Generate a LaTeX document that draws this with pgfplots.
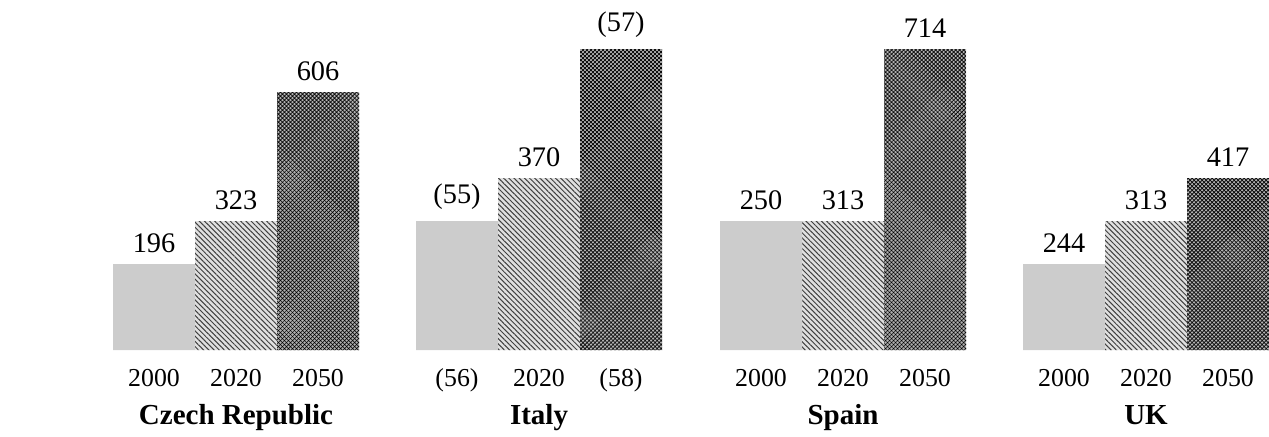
\documentclass[border=0pt]{standalone}
\usepackage{pgfplots}
\pgfplotsset{compat=1.18}
\usepackage{pgfplotstable}
\usepackage{fontspec}
\setmainfont{Liberation Serif}
\usetikzlibrary{patterns,patterns.meta}

% x position (px), bar height (units), label
\pgfplotstableread{
x h lab
154 2 196
457 3 (55)
761 3 250
1064 2 244
}\yrA
\pgfplotstableread{
x h lab
236 3 323
539 4 370
843 3 313
1146 3 313
}\yrB
\pgfplotstableread{
x h lab
318 6 606
621 7 (57)
925 7 714
1228 4 417
}\yrC

\begin{document}
\begin{tikzpicture}
\begin{axis}[
  scale only axis,
  width=761.4pt, height=210pt,
  xmin=0, xmax=1269, ymin=0, ymax=8.14,
  axis line style={draw=none},
  major tick length=0pt,
  ytick=\empty,
  xtick={154,236,318,457,539,621,761,843,925,1064,1146,1228},
  xticklabels={2000,{2020\\[4pt]{\fontsize{17.4}{20}\selectfont\bfseries Czech Republic}},2050,
               (56),{2020\\[4pt]{\fontsize{17.4}{20}\selectfont\bfseries Italy}},(58),
               2000,{2020\\[4pt]{\fontsize{17.4}{20}\selectfont\bfseries Spain}},2050,
               2000,{2020\\[4pt]{\fontsize{17.4}{20}\selectfont\bfseries UK}},2050},
  typeset ticklabels with strut,
  xticklabel style={font=\fontsize{15.5}{19}\selectfont, align=center, anchor=north, yshift=-5pt},
  ybar, bar width=49.2pt, bar shift=0pt,
  nodes near coords,
  point meta=explicit symbolic,
  every node near coord/.append style={font=\fontsize{17}{20}\selectfont, yshift=3.3pt},
  clip=false,
]
\addplot[draw=none, fill=black!20] table[x=x, y=h, meta=lab] {\yrA};
\addplot[draw=none, fill=black!12, postaction={pattern={Lines[angle=-45,distance=2.2pt,line width=0.6pt]}, pattern color=black!75}] table[x=x, y=h, meta=lab] {\yrB};
\addplot[draw=none, fill=black!30, postaction={pattern={Lines[angle=45,distance=1.7pt,line width=0.4pt]}, pattern color=black}, postaction={pattern={Lines[angle=-45,distance=1.7pt,line width=0.4pt]}, pattern color=black}] table[x=x, y=h, meta=lab] {\yrC};
\end{axis}
\end{tikzpicture}
\end{document}
